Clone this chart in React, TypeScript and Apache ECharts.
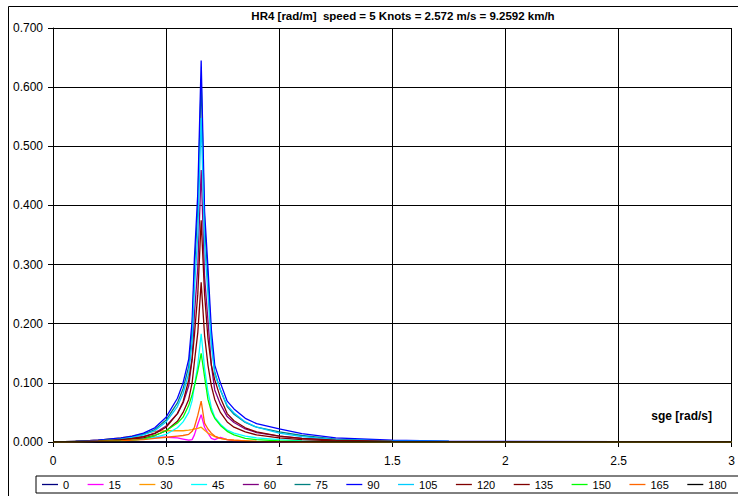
import React, { useEffect, useRef } from "react";
import * as echarts from "echarts";

const sge = [0, 0.1, 0.2, 0.3, 0.35, 0.4, 0.45, 0.5, 0.55, 0.575, 0.6, 0.615, 0.625, 0.64, 0.655, 0.67, 0.685, 0.7, 0.715, 0.74, 0.77, 0.8, 0.85, 0.9, 1.0, 1.1, 1.25, 1.5, 1.75, 2.0, 2.5, 3.0];

const h0 = [0, 0, 0, 0, 0, 0, 0, 0, 0, 0, 0, 0, 0, 0, 0, 0, 0, 0, 0, 0, 0, 0, 0, 0, 0, 0, 0, 0, 0, 0, 0, 0];
const h15 = [0, 0.001, 0.003, 0.005, 0.006, 0.007, 0.008, 0.008, 0.007, 0.005, 0.003, 0.004, 0.012, 0.030, 0.046, 0.025, 0.015, 0.006, 0.004, 0.008, 0.004, 0.002, 0.001, 0.0005, 0, 0, 0, 0, 0, 0, 0, 0];
const h30 = [0, 0.001, 0.003, 0.007, 0.010, 0.014, 0.018, 0.019, 0.019, 0.019, 0.020, 0.021, 0.022, 0.023, 0.025, 0.020, 0.015, 0.012, 0.009, 0.006, 0.004, 0.003, 0.002, 0.001, 0.0005, 0, 0, 0, 0, 0, 0, 0];
const h45 = [0, 0.0005, 0.001, 0.002, 0.003, 0.005, 0.008, 0.013, 0.024, 0.034, 0.050, 0.070, 0.095, 0.130, 0.183, 0.125, 0.085, 0.058, 0.042, 0.030, 0.020, 0.015, 0.010, 0.007, 0.004, 0.002, 0.001, 0.0005, 0.0002, 0.0001, 0, 0];
const h60 = [0, 0.001, 0.002, 0.004, 0.006, 0.009, 0.015, 0.027, 0.048, 0.066, 0.095, 0.140, 0.215, 0.295, 0.460, 0.280, 0.205, 0.130, 0.088, 0.064, 0.043, 0.033, 0.022, 0.016, 0.010, 0.006, 0.003, 0.001, 0.0005, 0.0003, 0.0001, 0];
const h75 = [0, 0.001, 0.003, 0.006, 0.009, 0.013, 0.021, 0.037, 0.066, 0.090, 0.128, 0.190, 0.290, 0.395, 0.614, 0.370, 0.275, 0.175, 0.118, 0.088, 0.060, 0.047, 0.033, 0.025, 0.017, 0.011, 0.005, 0.002, 0.001, 0.0007, 0.0003, 0];
const h90 = [0, 0.001, 0.003, 0.007, 0.010, 0.015, 0.024, 0.042, 0.074, 0.100, 0.140, 0.205, 0.310, 0.420, 0.645, 0.390, 0.295, 0.190, 0.130, 0.100, 0.069, 0.056, 0.040, 0.031, 0.022, 0.014, 0.007, 0.003, 0.0015, 0.001, 0.0005, 0];
const h105 = [0, 0.001, 0.002, 0.005, 0.008, 0.012, 0.019, 0.034, 0.060, 0.082, 0.116, 0.170, 0.258, 0.350, 0.548, 0.335, 0.250, 0.165, 0.115, 0.088, 0.062, 0.049, 0.034, 0.025, 0.015, 0.009, 0.004, 0.002, 0.001, 0.0005, 0.0002, 0];
const h120 = [0, 0.001, 0.002, 0.004, 0.006, 0.009, 0.014, 0.025, 0.048, 0.068, 0.105, 0.140, 0.180, 0.250, 0.375, 0.250, 0.175, 0.130, 0.105, 0.075, 0.048, 0.036, 0.024, 0.017, 0.010, 0.006, 0.003, 0.001, 0.0005, 0.0003, 0.0001, 0];
const h135 = [0, 0.0005, 0.001, 0.003, 0.005, 0.007, 0.011, 0.019, 0.035, 0.050, 0.072, 0.100, 0.135, 0.185, 0.270, 0.180, 0.130, 0.095, 0.072, 0.050, 0.034, 0.025, 0.017, 0.012, 0.007, 0.004, 0.002, 0.001, 0.0004, 0.0002, 0.0001, 0];
const h150 = [0, 0.0005, 0.001, 0.002, 0.003, 0.005, 0.011, 0.019, 0.032, 0.042, 0.062, 0.080, 0.094, 0.120, 0.150, 0.110, 0.072, 0.052, 0.040, 0.028, 0.018, 0.012, 0.006, 0.004, 0.002, 0.001, 0, 0, 0, 0, 0, 0];
const h165 = [0, 0, 0.001, 0.002, 0.003, 0.004, 0.006, 0.008, 0.010, 0.011, 0.013, 0.018, 0.025, 0.045, 0.069, 0.032, 0.022, 0.015, 0.010, 0.006, 0.004, 0.003, 0.002, 0.001, 0.0005, 0, 0, 0, 0, 0, 0, 0];
const h180 = [0, 0, 0, 0, 0, 0, 0, 0, 0, 0, 0, 0, 0, 0, 0, 0, 0, 0, 0, 0, 0, 0, 0, 0, 0, 0, 0, 0, 0, 0, 0, 0];

const headings = ["0", "15", "30", "45", "60", "75", "90", "105", "120", "135", "150", "165", "180"];
const values = [h0, h15, h30, h45, h60, h75, h90, h105, h120, h135, h150, h165, h180];
const colors = ["#000080", "#FF00FF", "#FF9900", "#00FFFF", "#800080", "#008080", "#0000FF", "#00CCFF", "#800000", "#800000", "#00FF00", "#FF6600", "#000000"];

const titleText = "HR4 [rad/m]  speed = 5 Knots = 2.572 m/s = 9.2592 km/h";
const xAxisName = "sge [rad/s]";

const FONT = "'Liberation Sans', Arial, sans-serif";

export default function App() {
  const ref = useRef<HTMLDivElement>(null);
  useEffect(() => {
    if (!ref.current) return;
    const chart = echarts.init(ref.current, undefined, { renderer: "svg" });
    const series = headings.map((h, i) => ({
      name: h,
      type: "line",
      data: sge.map((x, j) => [x, values[i][j]]),
      symbol: "none",
      lineStyle: { color: colors[i], width: 1.3 },
      itemStyle: { color: colors[i] },
    }));
    chart.setOption({
      animation: false,
      backgroundColor: "#ffffff",
      textStyle: { fontFamily: FONT },
      title: {
        text: titleText,
        left: 398,
        textAlign: "center",
        top: 5,
        textStyle: { fontSize: 11.5, fontWeight: "bold", color: "#000", fontFamily: FONT },
      },
      grid: { left: 53, right: 1, top: 28, bottom: 54, containLabel: false },
      xAxis: {
        type: "value",
        min: 0,
        max: 3,
        interval: 0.5,
        axisLine: { show: true, lineStyle: { color: "#000", width: 1 } },
        axisTick: { show: true, inside: false, length: 5, lineStyle: { color: "#000" } },
        axisLabel: { color: "#000", fontSize: 12, margin: 13, fontFamily: FONT },
        splitLine: { show: true, lineStyle: { color: "#000", width: 1 } },
      },
      yAxis: {
        type: "value",
        min: 0,
        max: 0.7,
        interval: 0.1,
        axisLine: { show: true, lineStyle: { color: "#000", width: 1 } },
        axisTick: { show: true, inside: false, length: 5, lineStyle: { color: "#000" } },
        axisLabel: { color: "#000", fontSize: 12, margin: 10, formatter: (v: number) => v.toFixed(3), fontFamily: FONT },
        splitLine: { show: true, lineStyle: { color: "#000", width: 1 } },
      },
      legend: {
        data: headings,
        left: 36,
        top: 476,
        width: 710,
        borderColor: "#000",
        borderWidth: 1,
        padding: [3, 14, 3, 6],
        icon: "rect",
        itemWidth: 16,
        itemHeight: 1.3,
        itemGap: 18.5,
        textStyle: { fontSize: 11, color: "#000", fontFamily: FONT },
      },
      graphic: [
        {
          type: "rect",
          shape: { x: 8.5, y: 6.5, width: 740, height: 500 },
          style: { fill: "none", stroke: "#000", lineWidth: 1 },
          silent: true,
          z: -10,
        },
        {
          type: "text",
          x: 712,
          y: 416,
          style: { text: xAxisName, fontSize: 12, fontWeight: "bold", fill: "#000", align: "right", verticalAlign: "middle", fontFamily: FONT },
        },
      ],
      series,
    });
    return () => chart.dispose();
  }, []);
  return <div ref={ref} style={{ position: "fixed", left: 0, top: 0, width: 738, height: 496 }} />;
}
